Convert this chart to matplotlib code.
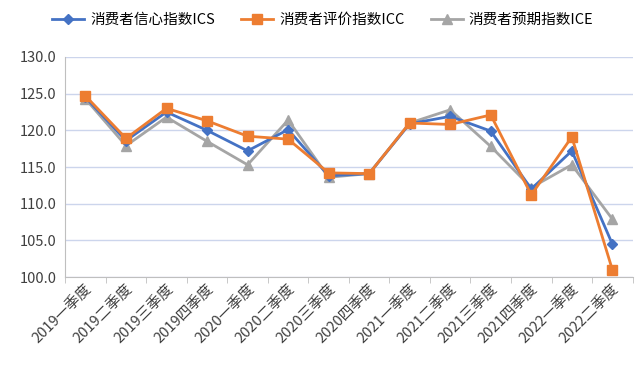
import matplotlib
matplotlib.use("Agg")
import matplotlib.pyplot as plt
import numpy as np

plt.rcParams['font.family'] = ['Noto Sans CJK SC', 'DejaVu Sans']

# quarters
quarters = ['2019一季度', '2019二季度', '2019三季度', '2019四季度',
            '2020一季度', '2020二季度', '2020三季度', '2020四季度',
            '2021一季度', '2021二季度', '2021三季度', '2021四季度',
            '2022一季度', '2022二季度']

# index values
ics = [124.5, 118.6, 122.5, 120.0, 117.2, 120.1, 113.8, 114.1,
       120.9, 121.9, 119.9, 112.0, 117.2, 104.5]
icc = [124.7, 118.9, 123.0, 121.3, 119.2, 118.8, 114.2, 114.1,
       121.0, 120.8, 122.1, 111.2, 119.1, 101.0]
ice = [124.3, 117.9, 121.8, 118.5, 115.3, 121.4, 113.6, 114.1,
       121.0, 122.8, 117.8, 112.2, 115.3, 107.9]

fig = plt.figure(figsize=(6.39, 3.80), dpi=100)
ax = fig.add_axes([0.102, 0.271, 0.888, 0.579])

x = np.arange(len(quarters))
ax.plot(x, ics, '-D', color='#4472C4', lw=2, ms=5, label='消费者信心指数ICS', zorder=3)
ax.plot(x, icc, '-s', color='#ED7D31', lw=2, ms=7, label='消费者评价指数ICC', zorder=4)
ax.plot(x, ice, '-^', color='#A5A5A5', lw=2, ms=7, label='消费者预期指数ICE', zorder=2)

ax.set_xlim(-0.5, len(quarters) - 0.5)
ax.set_ylim(100, 130)
ax.set_yticks(np.arange(100, 131, 5))
ax.set_yticklabels(['%.1f' % v for v in np.arange(100, 131, 5)], fontsize=10.5, color='#404040')
ax.grid(axis='y', color='#CCD5EC', lw=1)
ax.set_axisbelow(True)

ax.set_xticks(x)
ax.set_xticklabels(quarters, rotation=45, ha='right', rotation_mode='anchor',
                   fontsize=10.5, color='#404040')
ax.set_xticks(np.arange(-0.5, len(quarters), 1), minor=True)
ax.tick_params(axis='x', which='major', length=0, pad=4)
ax.tick_params(axis='x', which='minor', length=4, color='#BFBFBF', direction='out')
ax.tick_params(axis='y', length=0, pad=6)

for s in ['top', 'right']:
    ax.spines[s].set_visible(False)
ax.spines['left'].set_color('#BFBFBF')
ax.spines['bottom'].set_color('#BFBFBF')

fig.legend(loc='upper center', bbox_to_anchor=(0.505, 1.0), ncol=3, frameon=False,
           fontsize=10.5, handlelength=2.2, columnspacing=1.8, handletextpad=0.4)

fig.savefig('out.png', dpi=100)
